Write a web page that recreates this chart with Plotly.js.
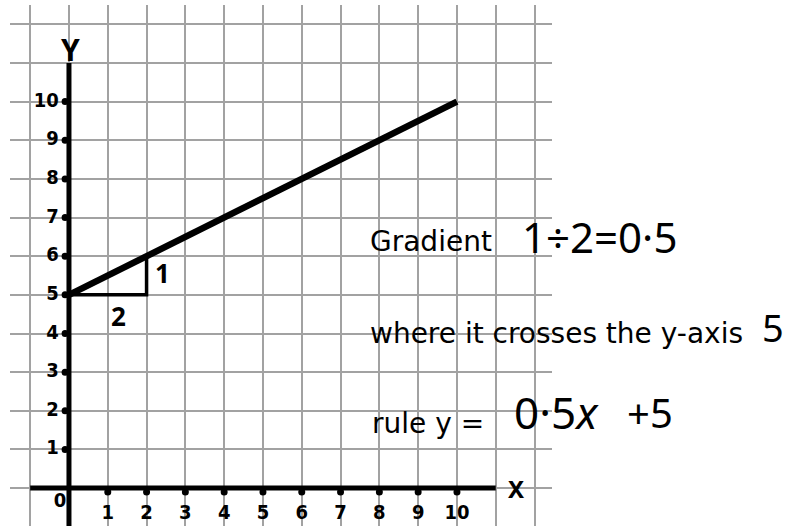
<!DOCTYPE html>
<html>
<head>
<meta charset="utf-8">
<script src="https://cdn.plot.ly/plotly-3.0.1.min.js"></script>
<style>
  html, body { margin: 0; padding: 0; background: #ffffff; }
  #chart { width: 788px; height: 526px; }
</style>
</head>
<body>
<div id="chart"></div>
<script>
// Straight line y = 0.5x + 5 on squared paper
const lineX = [0, 10];
const lineY = [5, 10];

// Rise/run triangle under the line
const stepX = [0, 2, 2];
const stepY = [5, 5, 6];
const riseLabel = "1";
const runLabel = "2";

// Axis extents
const xAxisX = [-1, 11];
const xAxisY = [0, 0];
const yAxisX = [0, 0];
const yAxisY = [-1, 11];

// Tick labels
const xTicks = [1, 2, 3, 4, 5, 6, 7, 8, 9, 10];
const xTickText = ["1", "2", "3", "4", "5", "6", "7", "8", "9", "10"];
const yTicks = [1, 2, 3, 4, 5, 6, 7, 8, 9, 10];
const yTickText = ["1", "2", "3", "4", "5", "6", "7", "8", "9", "10"];

// Working written beside the graph
const gradientLabel = "Gradient";
const gradientWork = "1÷2=0·5";
const interceptLabel = "where it crosses the y-axis";
const interceptValue = "5";
const ruleLabel = "rule y =";
const ruleSlope = "0·5<i>x</i>";
const ruleConst = "+5";

const printed = { family: "DejaVu Sans, sans-serif", size: 28, color: "#000" };
const handFamily = "Noto Sans, DejaVu Sans, sans-serif";
const tickFont = { family: "DejaVu Sans Condensed, DejaVu Sans, sans-serif", size: 20, color: "#000", weight: "bold" };

const traces = [
  // axes
  { x: xAxisX, y: xAxisY, mode: "lines", line: { color: "#000", width: 5 }, hoverinfo: "skip" },
  { x: yAxisX, y: yAxisY, mode: "lines", line: { color: "#000", width: 5 }, hoverinfo: "skip" },
  // tick dots
  { x: xTicks, y: xTicks.map(() => -0.1), mode: "markers", marker: { color: "#000", size: 7 }, hoverinfo: "skip" },
  { x: yTicks.map(() => -0.1), y: yTicks, mode: "markers", marker: { color: "#000", size: 7 }, hoverinfo: "skip" },
  // tick labels
  { x: xTicks, y: xTicks.map(() => -0.68), mode: "text", text: xTickText,
    textposition: "middle center", textfont: tickFont, hoverinfo: "skip", cliponaxis: false },
  { x: yTicks.map(() => -0.26), y: yTicks, mode: "text", text: yTickText,
    textposition: "middle left", textfont: tickFont, hoverinfo: "skip", cliponaxis: false },
  { x: [-0.23], y: [-0.36], mode: "text", text: ["0"], textposition: "middle center",
    textfont: tickFont, hoverinfo: "skip", cliponaxis: false },
  // rise/run triangle
  { x: stepX, y: stepY, mode: "lines", line: { color: "#000", width: 3.5 }, hoverinfo: "skip" },
  // the line itself
  { x: lineX, y: lineY, mode: "lines", line: { color: "#000", width: 6.5 }, hoverinfo: "skip" }
];

// labels on the grid (data coordinates)
const gridNotes = [
  { x: 0.03, y: 11.35, text: "<b>Y</b>", font: { family: handFamily, size: 30, color: "#000" } },
  { x: 11.52, y: -0.02, text: "<b>X</b>", font: { family: handFamily, size: 24, color: "#000" } },
  { x: 2.42, y: 5.57, text: "<b>" + riseLabel + "</b>", font: { family: handFamily, size: 26, color: "#000" } },
  { x: 1.27, y: 4.45, text: "<b>" + runLabel + "</b>", font: { family: handFamily, size: 26, color: "#000" } }
].map(a => Object.assign({ xref: "x", yref: "y", showarrow: false, xanchor: "center", yanchor: "middle" }, a));

// working to the right (paper coordinates)
const sideNotes = [
  { x: 0.6605, y: 0.547, text: gradientLabel, xanchor: "left", font: printed },
  { x: 0.941, y: 0.556, text: gradientWork, xanchor: "left", font: { family: handFamily, size: 42, color: "#000" } },
  { x: 0.6605, y: 0.3704, text: interceptLabel, xanchor: "left", font: printed },
  { x: 1.4077, y: 0.382, text: interceptValue, xanchor: "center", font: { family: handFamily, size: 38, color: "#000" } },
  { x: 0.664, y: 0.1958, text: ruleLabel, xanchor: "left", font: printed },
  { x: 0.926, y: 0.218, text: ruleSlope, xanchor: "left", font: { family: handFamily, size: 44, color: "#000" } },
  { x: 1.135, y: 0.218, text: ruleConst, xanchor: "left", font: { family: handFamily, size: 40, color: "#000" } }
].map(a => Object.assign({ xref: "paper", yref: "paper", showarrow: false, yanchor: "middle" }, a));

const layout = {
  width: 788,
  height: 526,
  margin: { l: 10, r: 236, t: 5, b: 0, pad: 0 },
  paper_bgcolor: "#ffffff",
  plot_bgcolor: "#ffffff",
  showlegend: false,
  xaxis: {
    range: [-1.52, 12.45], dtick: 1, tick0: 0,
    showgrid: true, gridcolor: "#a2a2a2", gridwidth: 2,
    zeroline: false, showline: false, showticklabels: false, ticks: "", fixedrange: true
  },
  yaxis: {
    range: [-0.98, 12.5], dtick: 1, tick0: 0,
    showgrid: true, gridcolor: "#a2a2a2", gridwidth: 2,
    zeroline: false, showline: false, showticklabels: false, ticks: "", fixedrange: true
  },
  annotations: gridNotes.concat(sideNotes)
};

Plotly.newPlot("chart", traces, layout, { displayModeBar: false, staticPlot: true });
</script>
</body>
</html>
